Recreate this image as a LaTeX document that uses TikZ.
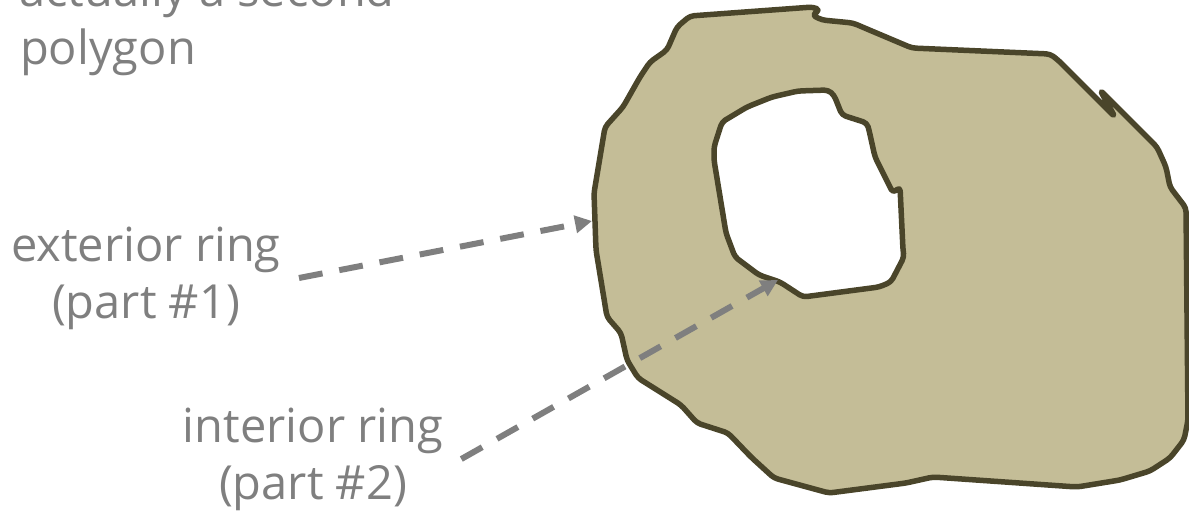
\documentclass[tikz,border=0pt]{standalone}
\usepackage{fontspec}
\setmainfont{Open Sans}
\usetikzlibrary{arrows.meta}
\definecolor{ctan}{HTML}{C4BD97}
\definecolor{cline}{HTML}{4A452A}
\definecolor{cgrey}{HTML}{7F7F7F}
\tikzset{
  every picture/.style={font=\fontsize{47}{57}\selectfont},
  ringnote/.style={text=cgrey, align=center, inner sep=0pt},
  ptr/.style={-{Triangle[length=17pt,width=17pt]}, draw=cgrey, line width=6pt, dash pattern=on 24pt off 17pt},
  area/.style={fill=ctan, draw=cline, line width=5.5pt, even odd rule, line join=round, rounded corners=4pt},
}
\begin{document}
\begin{tikzpicture}[x=1pt, y=-1pt]
  \clip (0,0) rectangle (1189,512);
  \draw[area] (690,16) -- (813,7) -- (820,10) -- (812,15) -- (822,20) -- (853,23) -- (867,29)
    -- (912,48) -- (1050,54) -- (1058,60) -- (1115,117) -- (1100,90) -- (1157,147) -- (1166,167)
    -- (1170,187) -- (1186,208) -- (1188,420) -- (1184,440) -- (1170,458) -- (1150,471) -- (1120,480) -- (1077,487)
    -- (933,477) -- (906,483) -- (829,493) -- (774,478) -- (751,457) -- (728,433) -- (697,423)
    -- (681,405) -- (638,378) -- (627,360) -- (621,333) -- (607,317) -- (596,250) -- (594,193)
    -- (605,127) -- (623,107) -- (640,77) -- (650,62) -- (667,50) -- (677,27) -- cycle
    (722,122) -- (747,107) -- (772,97) -- (798,91) -- (828,90) -- (834,95) -- (842,115) -- (867,123)
    -- (869,130) -- (875,157) -- (893,193) -- (900,187) -- (903,250) -- (904,257) -- (891,282)
    -- (879,287) -- (803,297) -- (780,282) -- (759,275) -- (735,257) -- (726,233) -- (714,160)
    -- (714,147) -- cycle;
  \node[ringnote, anchor=base east] (head) at (395,6) {actually a second};
  \node[ringnote, anchor=base] (poly) at (108,64) {polygon};
  \node[ringnote] (ext) at (146,278) {exterior ring\\(part \#1)};
  \node[ringnote] (int) at (313,459) {interior ring\\(part \#2)};
  \coordinate (outer) at (592,221);
  \coordinate (inner) at (778,280);
  \draw[ptr] ([xshift=18pt]ext.east) -- (outer);
  \draw[ptr] ([xshift=18pt]int.east) -- (inner);
\end{tikzpicture}
\end{document}
